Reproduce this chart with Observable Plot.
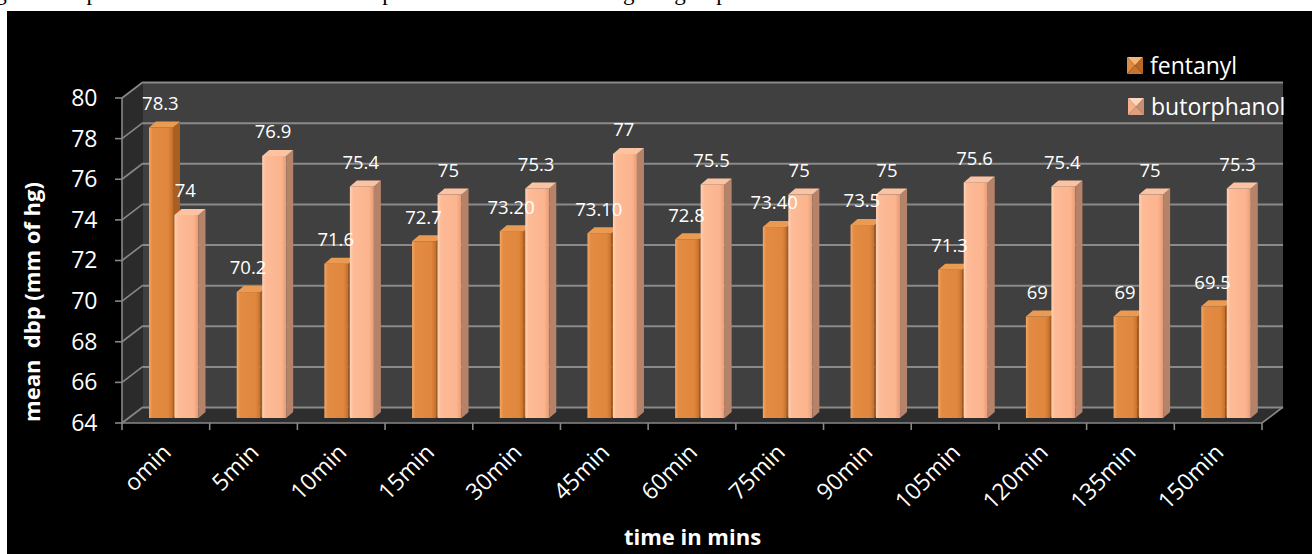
<!DOCTYPE html>
<html>
<head>
<meta charset="utf-8">
<script src="https://cdn.jsdelivr.net/npm/d3@7"></script>
<script src="https://cdn.jsdelivr.net/npm/@observablehq/plot@0.6"></script>
<style>
  html, body { margin: 0; padding: 0; background: #fff; }
  #cap { height: 11px; width: 1312px; overflow: hidden; position: relative; }
  #cap div { position: absolute; left: -24px; top: -19px; font: 23px/23px "Liberation Serif", serif; white-space: nowrap; color: #000; }
  #chart { position: relative; margin-left: 7px; width: 1305px; height: 543px; background: #000; overflow: hidden; }
  .leg { position: absolute; display: flex; align-items: center; font: 23px "Open Sans", sans-serif; color: #fff; white-space: nowrap; }
  .leg svg { margin-right: 7px; }
</style>
</head>
<body>
<div id="cap"><div>Fig. 3: Comparison of mean diastolic blood pressure at intervals among the groups</div></div>
<div id="chart"></div>
<script>
// ---- data ----
const categories = ["omin","5min","10min","15min","30min","45min","60min","75min","90min","105min","120min","135min","150min"];
const fentanyl = [78.3, 70.2, 71.6, 72.7, 73.2, 73.1, 72.8, 73.4, 73.5, 71.3, 69, 69, 69.5];
const fentanylLabels = ["78.3","70.2","71.6","72.7","73.20","73.10","72.8","73.40","73.5","71.3","69","69","69.5"];
const butorphanol = [74, 76.9, 75.4, 75, 75.3, 77, 75.5, 75, 75, 75.6, 75.4, 75, 75.3];
const butorphanolLabels = ["74","76.9","75.4","75","75.3","77","75.5","75","75","75.6","75.4","75","75.3"];
const yTicks = [64, 66, 68, 70, 72, 74, 76, 78, 80];
const seriesNames = ["fentanyl", "butorphanol"];
const xTitle = "time in mins";
const yTitle = "mean\u00a0 dbp (mm of hg)";

// ---- geometry / style ----
const W = 1305, H = 543, ML = 115, MR = 50, MT = 87, MB = 131;
const BW = (W - ML - MR) / categories.length;   // band width
const WDX = 21, WDY = -16;                        // wall depth offset
const BDX = 7, BDY = -6;                          // bar depth offset
const BAR_W = 24, LIFT = -5;
const FL = 27, BL = 52.5;                         // bar insets within band
const idx = categories.map((_, i) => i);

function walls(index, scales, values, dims) {
  const {y} = scales;
  const L = dims.marginLeft, R = dims.width - dims.marginRight;
  const yb = y(64), yt = y(80);
  const g = d3.create("svg:g");
  const defs = g.append("defs");
  const grad = (id, stops) => {
    const lg = defs.append("linearGradient").attr("id", id).attr("x1", 0).attr("x2", 1).attr("y1", 0).attr("y2", 0);
    stops.forEach(([o, c]) => lg.append("stop").attr("offset", o).attr("stop-color", c));
  };
  grad("gF", [[0, "#F3A766"], [0.14, "#E38B42"], [0.8, "#DF873D"], [1, "#C46E2C"]]);
  grad("gB", [[0, "#FFD3B8"], [0.14, "#FDBB97"], [0.8, "#FBB48E"], [1, "#E59C77"]]);
  g.append("rect").attr("x", L + WDX).attr("y", yt + WDY).attr("width", R - L).attr("height", yb - yt).attr("fill", "#404040");
  g.append("path").attr("d", `M${L},${yb}L${L},${yt}L${L + WDX},${yt + WDY}L${L + WDX},${yb + WDY}Z`).attr("fill", "#2b2b2b");
  g.append("path").attr("d", `M${L},${yb}L${R},${yb}L${R + WDX},${yb + WDY}L${L + WDX},${yb + WDY}Z`).attr("fill", "#2e2e2e");
  return g.node();
}

function frameLines(index, scales, values, dims) {
  const {x, y} = scales;
  const L = dims.marginLeft, R = dims.width - dims.marginRight;
  const yb = y(64), yt = y(80);
  const g = d3.create("svg:g").attr("stroke", "#878787").attr("stroke-width", 1.6).attr("fill", "none");
  yTicks.forEach(t => {
    g.append("path").attr("d", `M${L},${y(t)}L${L + WDX},${y(t) + WDY}`);
    g.append("path").attr("d", `M${L - 7},${y(t)}L${L},${y(t)}`);
  });
  g.append("path").attr("d", `M${L},${yt}L${L},${yb}L${R},${yb}L${R + WDX},${yb + WDY}`);
  categories.forEach(c => g.append("path").attr("d", `M${x(c)},${yb}L${x(c)},${yb + 7}`));
  g.append("path").attr("d", `M${R},${yb}L${R},${yb + 7}`);
  return g.node();
}

function bar3d(vals, inset, side, cap) {
  return (index, scales) => {
    const {x, y} = scales;
    const g = d3.create("svg:g");
    vals.forEach((v, i) => {
      const x0 = x(categories[i]) + inset, x1 = x0 + BAR_W;
      const yt = y(v) + LIFT, yb = y(64) + LIFT;
      g.append("path").attr("d", `M${x1},${yt}L${x1 + BDX},${yt + BDY}L${x1 + BDX},${yb + BDY}L${x1},${yb}Z`).attr("fill", side);
      g.append("path").attr("d", `M${x0},${yt}L${x1},${yt}L${x1 + BDX},${yt + BDY}L${x0 + BDX},${yt + BDY}Z`).attr("fill", cap);
    });
    return g.node();
  };
}

const chart = Plot.plot({
  width: W, height: H,
  marginLeft: ML, marginRight: MR, marginTop: MT, marginBottom: MB,
  style: {background: "transparent", color: "white", fontFamily: "Open Sans", overflow: "visible"},
  x: {domain: categories, padding: 0, round: false, axis: null},
  y: {domain: [64, 80], axis: null},
  marks: [
    walls,
    Plot.ruleY(yTicks, {y: d => d, dx: WDX, dy: WDY, stroke: "#8a8a8a", strokeWidth: 2}),
    frameLines,
    Plot.barY(idx, {x: i => categories[i], y1: () => 64, y2: i => fentanyl[i], fill: "url(#gF)",
      insetLeft: FL, insetRight: BW - FL - BAR_W, dy: LIFT}),
    bar3d(fentanyl, FL, "#A95E22", "#EB9A52"),
    Plot.barY(idx, {x: i => categories[i], y1: () => 64, y2: i => butorphanol[i], fill: "url(#gB)",
      insetLeft: BL, insetRight: BW - BL - BAR_W, dy: LIFT}),
    bar3d(butorphanol, BL, "#B5836A", "#FCC3A3"),
    Plot.text(idx, {x: i => categories[i], y: i => fentanyl[i], text: i => fentanylLabels[i],
      dx: -6, dy: -29, fill: "white", fontSize: 18.5, lineAnchor: "middle"}),
    Plot.text(idx, {x: i => categories[i], y: i => butorphanol[i], text: i => butorphanolLabels[i],
      dx: 19, dy: -29, fill: "white", fontSize: 18.5, lineAnchor: "middle"}),
    Plot.text(yTicks, {y: d => d, text: d => String(d), frameAnchor: "left", textAnchor: "end",
      dx: -25, fill: "white", fontSize: 23, lineAnchor: "middle"}),
    Plot.text(categories, {x: d => d, text: d => d, frameAnchor: "bottom", rotate: -45, textAnchor: "end",
      lineAnchor: "middle", dx: 1, dy: 25, fill: "white", fontSize: 23}),
    Plot.text([xTitle], {text: d => d, frameAnchor: "bottom", textAnchor: "middle", dy: 114, fill: "white", fontSize: 22,
      fontWeight: "bold", lineAnchor: "middle"}),
    Plot.text([yTitle], {text: d => d, frameAnchor: "left", textAnchor: "middle", rotate: -90, dx: -90, dy: 41, fill: "white",
      fontSize: 22, fontWeight: "bold", lineAnchor: "middle"})
  ]
});
document.getElementById("chart").appendChild(chart);

// ---- legend ----
function swatch(c) {
  return `<svg width="16" height="17" viewBox="0 0 16 17">
    <path d="M0,0L16,0L8,8.5Z" fill="${c[0]}"/>
    <path d="M0,0L0,17L8,8.5Z" fill="${c[1]}"/>
    <path d="M16,0L16,17L8,8.5Z" fill="${c[2]}"/>
    <path d="M0,17L16,17L8,8.5Z" fill="${c[3]}"/></svg>`;
}
const legendColors = [
  ["#F6B574", "#E08A40", "#B8672A", "#C9742F"],
  ["#FFD6BE", "#F6B18B", "#C98E70", "#DCA080"]
];
const legendTops = [38, 79];
seriesNames.forEach((name, k) => {
  const d = document.createElement("div");
  d.className = "leg";
  d.style.left = (1120 + k) + "px";
  d.style.top = legendTops[k] + "px";
  d.innerHTML = swatch(legendColors[k]) + `<span>${name}</span>`;
  document.getElementById("chart").appendChild(d);
});
</script>
</body>
</html>
